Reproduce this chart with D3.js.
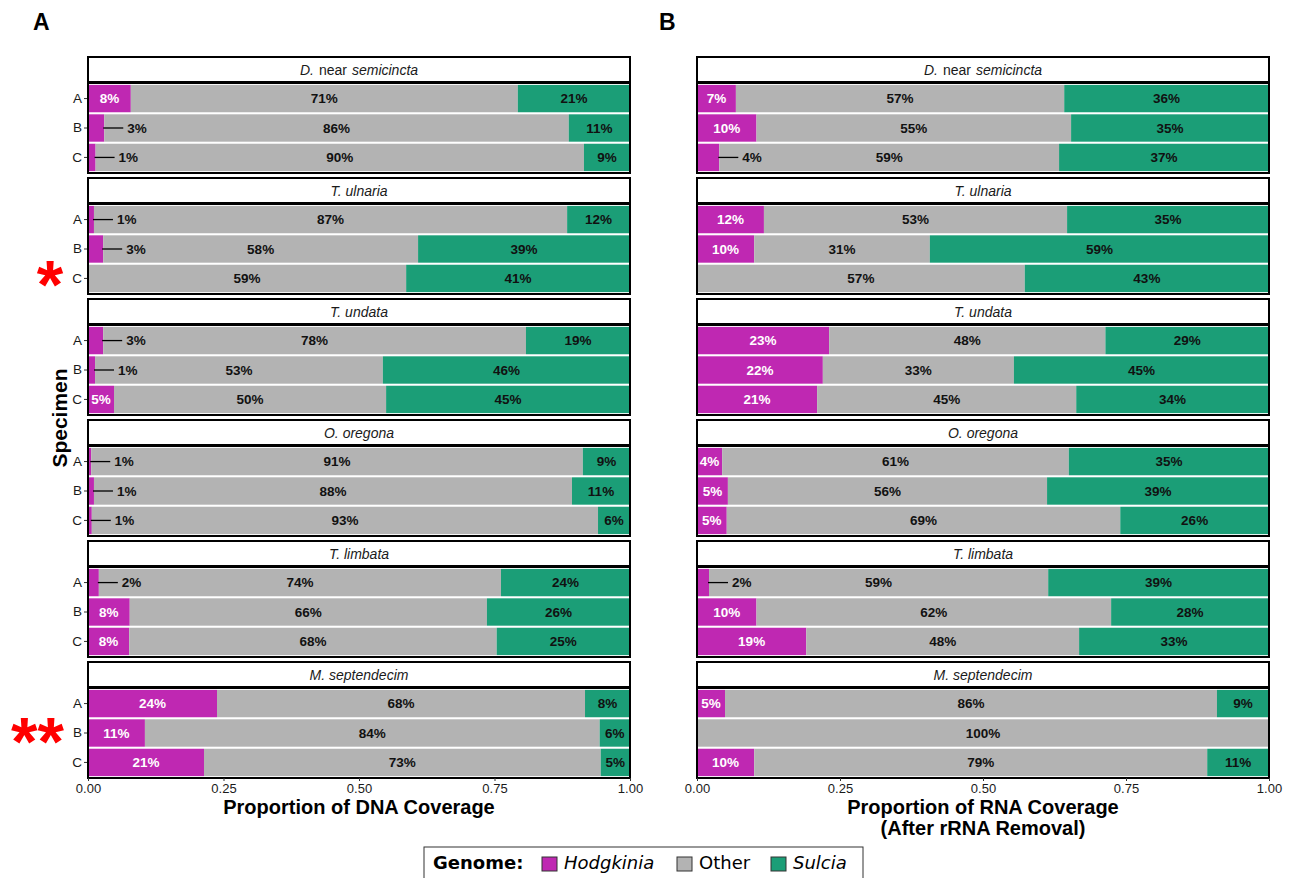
<!DOCTYPE html>
<html>
<head>
<meta charset="utf-8">
<script src="https://cdn.jsdelivr.net/npm/d3@7"></script>
<style>
  body { margin: 0; background: #fff; }
  svg { display: block; font-family: "Liberation Sans", Arial, sans-serif; }
</style>
</head>
<body>
<svg width="1290" height="878"></svg>
<script>
// species facets, top to bottom; each name split into [text, italic?] parts
const species = [
    [["D.", true], ["near", false], ["semicincta", true]],
    [["T. ulnaria", true]],
    [["T. undata", true]],
    [["O. oregona", true]],
    [["T. limbata", true]],
    [["M. septendecim", true]]
];
const specimens = ["A", "B", "C"];
const genomes = ["Hodgkinia", "Other", "Sulcia"];
const xTicks = [0, 0.25, 0.5, 0.75, 1];

// percent of DNA coverage, one row per species, columns = specimens A, B, C
const dnaHodgkinia = [[7.9, 3.0, 1.4], [1.1, 2.8, 0], [2.8, 1.3, 4.8], [0.6, 1.1, 0.7], [2.0, 7.7, 7.6], [23.8, 10.5, 21.4]];
const dnaOther     = [[71.4, 85.7, 90.1], [87.3, 58.1, 58.7], [78.0, 53.1, 50.2], [90.7, 88.2, 93.4], [74.2, 65.9, 67.8], [67.9, 83.9, 73.2]];
const dnaSulcia    = [[20.7, 11.3, 8.5], [11.6, 39.1, 41.3], [19.2, 45.6, 45.0], [8.7, 10.7, 5.9], [23.8, 26.4, 24.6], [8.3, 5.6, 5.4]];

// percent of RNA coverage (after rRNA removal)
const rnaHodgkinia = [[6.8, 10.4, 3.9], [11.7, 10.0, 0], [23.1, 22.0, 21.0], [4.4, 5.4, 5.2], [2.1, 10.4, 19.1], [4.9, 0, 10.0]];
const rnaOther     = [[57.4, 55.0, 59.4], [53.0, 30.7, 57.3], [48.3, 33.4, 45.3], [60.6, 55.8, 68.8], [59.3, 62.0, 47.7], [86.0, 100, 79.2]];
const rnaSulcia    = [[35.8, 34.6, 36.7], [35.3, 59.3, 42.7], [28.6, 44.6, 33.7], [35.0, 38.8, 26.0], [38.6, 27.6, 33.2], [9.1, 0, 10.8]];

const colors = { Hodgkinia: "#bf28b2", Other: "#b3b3b3", Sulcia: "#1b9e77" };
const leaderCutoff = 4.2;

const svg = d3.select("svg");
svg.append("rect").attr("width", 1290).attr("height", 878).attr("fill", "#fff");

const firstStrip = 57;
const facetStep = 121;
const stripH = 25;

function drawPanel(x0, x1, hodg, other, sulc, showY, titleLines) {
    const x = d3.scaleLinear().domain([0, 100]).range([x0, x1]);
    const xAxisScale = d3.scaleLinear().domain([0, 1]).range([x0, x1]);
    const g = svg.append("g");

    species.forEach((name, i) => {
        const top = firstStrip + i * facetStep;
        const pTop = top + stripH + 2;
        const pBottom = top + 115;
        const y = d3.scaleBand()
            .domain(specimens)
            .range([pTop, pBottom])
            .paddingInner(0.07)
            .paddingOuter(0.03);

        // strip
        g.append("rect")
            .attr("x", x0).attr("y", top)
            .attr("width", x1 - x0).attr("height", stripH)
            .attr("fill", "#fff").attr("stroke", "#000").attr("stroke-width", 2);
        const st = g.append("text")
            .attr("x", (x0 + x1) / 2).attr("y", top + stripH / 2)
            .attr("dy", "0.36em")
            .attr("text-anchor", "middle")
            .attr("font-size", "14px")
            .attr("fill", "#1a1a1a");
        name.forEach((p, k) => {
            st.append("tspan")
                .attr("font-style", p[1] ? "italic" : "normal")
                .attr("dx", k > 0 ? 5 : 0)
                .text(p[0]);
        });

        const rows = specimens.map((s, j) => ({
            spec: s,
            parts: [
                { key: "Hodgkinia", start: 0, val: hodg[i][j] },
                { key: "Other", start: hodg[i][j], val: other[i][j] },
                { key: "Sulcia", start: hodg[i][j] + other[i][j], val: sulc[i][j] }
            ]
        }));

        rows.forEach(r => {
            const yc = y(r.spec) + y.bandwidth() / 2;
            r.parts.forEach(p => {
                if (p.val <= 0) return;
                g.append("rect")
                    .attr("x", x(p.start))
                    .attr("y", y(r.spec))
                    .attr("width", Math.min(x(p.start + p.val), x1) - x(p.start))
                    .attr("height", y.bandwidth())
                    .attr("fill", colors[p.key]);
            });
            r.parts.forEach(p => {
                if (p.val <= 0) return;
                const lab = Math.round(p.val) + "%";
                if (p.key === "Hodgkinia" && p.val < leaderCutoff) {
                    const xe = x(p.val);
                    g.append("line")
                        .attr("x1", xe - 1).attr("x2", xe + 19)
                        .attr("y1", yc).attr("y2", yc)
                        .attr("stroke", "#000").attr("stroke-width", 1.3);
                    g.append("text")
                        .attr("x", xe + 23).attr("y", yc).attr("dy", "0.36em")
                        .attr("font-size", "13.5px").attr("font-weight", "bold")
                        .attr("fill", "#111")
                        .text(lab);
                } else {
                    g.append("text")
                        .attr("x", x(p.start + p.val / 2)).attr("y", yc).attr("dy", "0.36em")
                        .attr("text-anchor", "middle")
                        .attr("font-size", "13.5px").attr("font-weight", "bold")
                        .attr("fill", p.key === "Hodgkinia" ? "#fff" : "#111")
                        .text(lab);
                }
            });
        });

        // panel border
        g.append("rect")
            .attr("x", x0).attr("y", pTop - 1)
            .attr("width", x1 - x0).attr("height", pBottom - pTop + 2)
            .attr("fill", "none").attr("stroke", "#000").attr("stroke-width", 2);

        if (showY) {
            const ya = g.append("g")
                .attr("transform", `translate(${x0 - 1},0)`)
                .call(d3.axisLeft(y).tickSize(3).tickPadding(2));
            ya.select(".domain").remove();
            ya.selectAll("line").attr("stroke", "#333");
            ya.selectAll("text")
                .attr("font-family", "Liberation Sans, Arial, sans-serif")
                .attr("font-size", "13.5px").attr("fill", "#1a1a1a");
        }

        if (i === species.length - 1) {
            const xa = g.append("g")
                .attr("transform", `translate(0,${pBottom + 1})`)
                .call(d3.axisBottom(xAxisScale).tickValues(xTicks)
                    .tickFormat(d3.format(".2f")).tickSize(3).tickPadding(3));
            xa.select(".domain").remove();
            xa.selectAll("line").attr("stroke", "#333");
            xa.selectAll("text")
                .attr("font-family", "Liberation Sans, Arial, sans-serif")
                .attr("font-size", "13px").attr("fill", "#1a1a1a");

            titleLines.forEach((t, k) => {
                g.append("text")
                    .attr("x", (x0 + x1) / 2).attr("y", pBottom + 37 + k * 21)
                    .attr("text-anchor", "middle")
                    .attr("font-size", "20px").attr("font-weight", "bold")
                    .text(t);
            });
        }
    });
}

drawPanel(88, 630, dnaHodgkinia, dnaOther, dnaSulcia, true, ["Proportion of DNA Coverage"]);
drawPanel(697, 1269, rnaHodgkinia, rnaOther, rnaSulcia, false, ["Proportion of RNA Coverage", "(After rRNA Removal)"]);

// panel letters
svg.append("text").attr("x", 33).attr("y", 30)
    .attr("font-size", "23px").attr("font-weight", "bold").text("A");
svg.append("text").attr("x", 659).attr("y", 30)
    .attr("font-size", "23px").attr("font-weight", "bold").text("B");

// y title
svg.append("text")
    .attr("transform", "translate(67,418) rotate(-90)")
    .attr("text-anchor", "middle")
    .attr("font-size", "21px").attr("font-weight", "bold")
    .text("Specimen");

// asterisks marking specimens
svg.append("text").attr("x", 50).attr("y", 308)
    .attr("text-anchor", "middle")
    .attr("font-size", "68px").attr("font-weight", "bold").attr("fill", "#ff0000")
    .text("*");
svg.append("text").attr("x", 37.5).attr("y", 765)
    .attr("text-anchor", "middle")
    .attr("font-size", "68px").attr("font-weight", "bold").attr("fill", "#ff0000")
    .text("**");

// legend
const leg = svg.append("g").attr("font-family", "DejaVu Sans, sans-serif");
leg.append("rect").attr("x", 424).attr("y", 847).attr("width", 439).attr("height", 40)
    .attr("fill", "#fff").attr("stroke", "#333").attr("stroke-width", 1);
leg.append("text").attr("x", 433).attr("y", 869)
    .attr("font-size", "18px").attr("font-weight", "bold").text("Genome:");
const legItems = [
    { key: "Hodgkinia", x: 542, italic: true },
    { key: "Other", x: 677, italic: false },
    { key: "Sulcia", x: 771, italic: true }
];
legItems.forEach(d => {
    leg.append("rect").attr("x", d.x).attr("y", 857).attr("width", 15).attr("height", 14)
        .attr("fill", colors[d.key]).attr("stroke", "#333").attr("stroke-width", 1);
    leg.append("text").attr("x", d.x + 22).attr("y", 869)
        .attr("font-size", "18px").attr("font-style", d.italic ? "italic" : "normal")
        .text(d.key);
});
</script>
</body>
</html>
